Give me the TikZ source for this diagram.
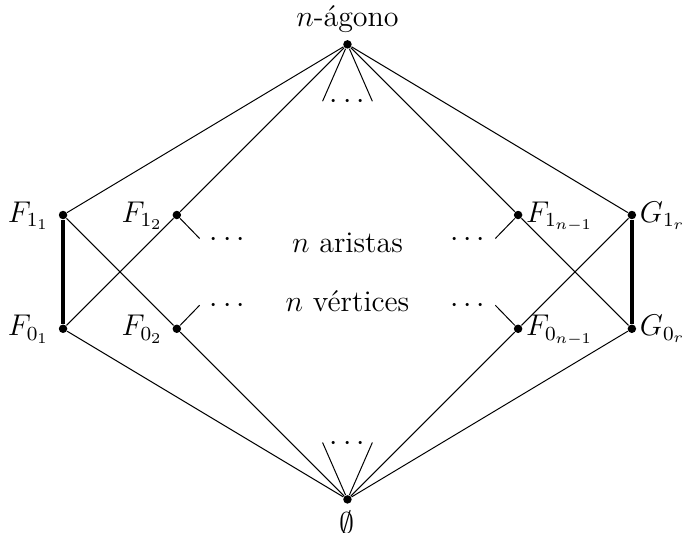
\documentclass[tikz,border=0pt]{standalone}
\usepackage{fontspec}
\begin{document}
\begin{tikzpicture}[
  every node/.style={font=\large},
  pt/.style={circle,fill,inner sep=0pt,minimum size=3.4pt},
  edge/.style={line width=0.4pt},
  thickedge/.style={line width=1.6pt},
  lbl/.style={inner sep=0pt},
  llbl/.style={inner sep=0pt,anchor=base east},
  rlbl/.style={inner sep=0pt,anchor=base west},
  cd/.style={inner sep=0pt,anchor=base,yshift=-3pt}
]
\useasboundingbox (-4.887,-2.869) rectangle (4.705,4.624);
% vertices of the lattice
\node[pt] (top) at (0,4) {};
\node[pt] (bot) at (0,-2.4) {};
\node[pt] (F11) at (-4,1.6) {};
\node[pt] (F01) at (-4,0) {};
\node[pt] (F12) at (-2.4,1.6) {};
\node[pt] (F02) at (-2.4,0) {};
\node[pt] (F1n) at (2.4,1.6) {};
\node[pt] (F0n) at (2.4,0) {};
\node[pt] (G1) at (4,1.6) {};
\node[pt] (G0) at (4,0) {};
% labels
\node[lbl,anchor=base] (ltop) at ([yshift=7.3pt]top.center) {$n$-ágono};
\node[lbl,anchor=north] (lbot) at ([yshift=-4.4pt]bot.center) {$\emptyset$};
\node[llbl] (lF11) at ([xshift=-5.4pt,yshift=-2.8pt]F11.center) {$F_{1_1}$};
\node[llbl] (lF01) at ([xshift=-5.4pt,yshift=-2.8pt]F01.center) {$F_{0_1}$};
\node[llbl] (lF12) at ([xshift=-5.4pt,yshift=-2.8pt]F12.center) {$F_{1_2}$};
\node[llbl] (lF02) at ([xshift=-5.4pt,yshift=-2.8pt]F02.center) {$F_{0_2}$};
\node[rlbl] (lF1n) at ([xshift=3.0pt,yshift=-2.8pt]F1n.center) {$F_{1_{n-1}}$};
\node[rlbl] (lF0n) at ([xshift=3.0pt,yshift=-2.8pt]F0n.center) {$F_{0_{n-1}}$};
\node[rlbl] (lG1) at ([xshift=3.0pt,yshift=-2.8pt]G1.center) {$G_{1_r}$};
\node[rlbl] (lG0) at ([xshift=3.0pt,yshift=-2.8pt]G0.center) {$G_{0_r}$};
% centre texts
\node[lbl,anchor=base] (ar) at (0,1.075) {$n$ aristas};
\node[lbl,anchor=base] (ve) at (0,0.239) {$n$ vértices};
% dots
\node[cd] (dtop) at (0,3.2) {$\cdots$};
\node[cd] (dbot) at (0,-1.6) {$\cdots$};
\node[cd] (dl1) at (-1.69,1.262) {$\cdots$};
\node[cd] (dl0) at (-1.69,0.338) {$\cdots$};
\node[cd] (dr1) at (1.69,1.262) {$\cdots$};
\node[cd] (dr0) at (1.69,0.338) {$\cdots$};
% stub ends
\coordinate (ts1) at (-0.35,3.2);
\coordinate (ts2) at (0.35,3.2);
\coordinate (bs1) at (-0.35,-1.6);
\coordinate (bs2) at (0.35,-1.6);
\coordinate (s12) at (-2.08,1.27);
\coordinate (s02) at (-2.08,0.33);
\coordinate (s1n) at (2.08,1.27);
\coordinate (s0n) at (2.08,0.33);
% edges
\draw[edge] (top) -- (F11);
\draw[edge] (top) -- (F12);
\draw[edge] (top) -- (F1n);
\draw[edge] (top) -- (G1);
\draw[edge] (top) -- (ts1);
\draw[edge] (top) -- (ts2);
\draw[edge] (F11) -- (F02);
\draw[edge] (F01) -- (F12);
\draw[thickedge] (F11) -- (F01);
\draw[edge] (F02) -- (bot);
\draw[edge] (F01) -- (bot);
\draw[edge] (F1n) -- (G0);
\draw[edge] (G1) -- (F0n);
\draw[thickedge] (G1) -- (G0);
\draw[edge] (F0n) -- (bot);
\draw[edge] (G0) -- (bot);
\draw[edge] (bot) -- (bs1);
\draw[edge] (bot) -- (bs2);
\draw[edge] (F12) -- (s12);
\draw[edge] (F02) -- (s02);
\draw[edge] (F1n) -- (s1n);
\draw[edge] (F0n) -- (s0n);
\end{tikzpicture}
\end{document}
